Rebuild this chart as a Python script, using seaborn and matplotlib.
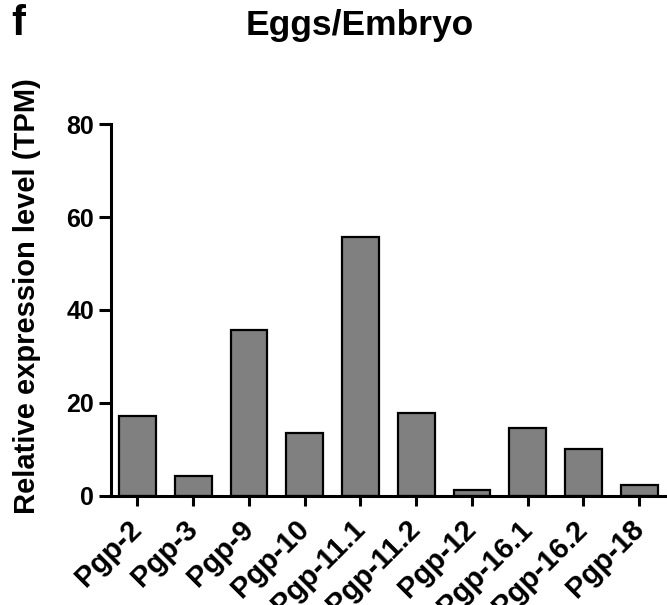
import numpy as np
import pandas as pd
import matplotlib
matplotlib.use("Agg")
import matplotlib.pyplot as plt
import seaborn as sns

# data
genes = ["Pgp-2", "Pgp-3", "Pgp-9", "Pgp-10", "Pgp-11.1",
         "Pgp-11.2", "Pgp-12", "Pgp-16.1", "Pgp-16.2", "Pgp-18"]
tpm = [17.2, 4.2, 35.7, 13.6, 55.8, 17.7, 1.2, 14.5, 10.1, 2.2]
yticks = [0, 20, 40, 60, 80]

sns.set_theme(style="ticks")
plt.rcParams['font.family'] = ['Liberation Sans', 'DejaVu Sans']
plt.rcParams['font.weight'] = 'bold'
plt.rcParams['text.color'] = 'black'

df = pd.DataFrame({"gene": genes, "tpm": tpm})

fig = plt.figure(figsize=(6.67, 6.05), dpi=100)
ax = fig.add_axes([0.166, 0.1807, 0.834, 0.614])

sns.barplot(data=df, x="gene", y="tpm", color="#808080", saturation=1,
            width=0.66, edgecolor="black", linewidth=1.6, ax=ax)

ax.set_xlim(-0.48, 9.5)
ax.set_ylim(0, 80)
ax.set_yticks(yticks)
ax.set_xlabel("")
ax.set_ylabel("")

for side in ["top", "right"]:
    ax.spines[side].set_visible(False)
for side in ["left", "bottom"]:
    ax.spines[side].set_linewidth(2.2)
    ax.spines[side].set_color("black")

ax.tick_params(axis="both", direction="out", width=2.2, color="black",
               labelcolor="black")
ax.tick_params(axis="y", length=9, pad=3, labelsize=18)
ax.tick_params(axis="x", length=7, pad=14, labelsize=21)
for lab in ax.get_yticklabels():
    lab.set_fontweight("bold")
for lab in ax.get_xticklabels():
    lab.set_fontweight("bold")
    lab.set_rotation(45)
    lab.set_ha("right")
    lab.set_va("center")
    lab.set_rotation_mode("anchor")

fig.text(0.041, 1 - 296 / 605, "Relative expression level (TPM)",
         rotation=90, ha="center", va="center", fontsize=21,
         fontweight="bold", color="black")
fig.text(360 / 667, 1 - 26 / 605, "Eggs/Embryo", ha="center", va="center",
         fontsize=25.5, fontweight="bold", color="black")
fig.text(11 / 667, 1 - 24 / 605, "f", ha="left", va="center",
         fontsize=30, fontweight="bold", color="black")

fig.savefig("out.png", dpi=100)
